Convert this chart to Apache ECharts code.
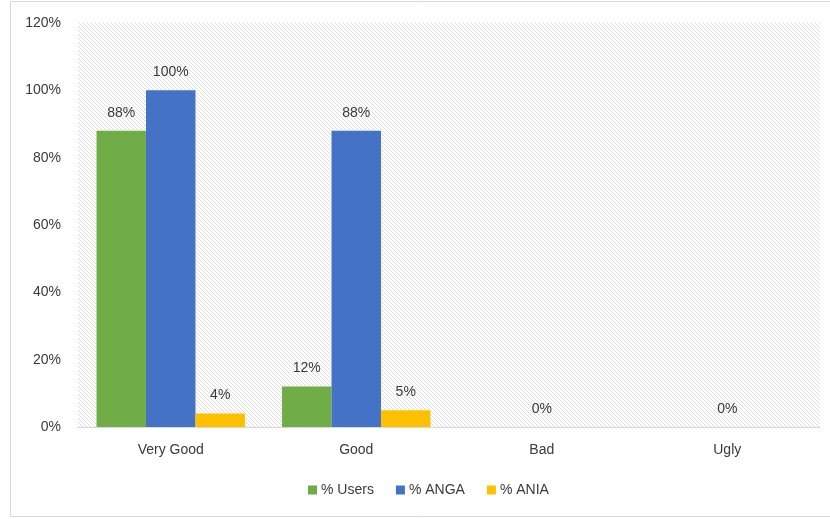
<!DOCTYPE html>
<html>
<head>
<meta charset="utf-8">
<script src="https://cdn.jsdelivr.net/npm/echarts@6/dist/echarts.min.js"></script>
<style>
  html, body { margin: 0; padding: 0; background: #fff; }
  #chart { width: 830px; height: 519px; }
</style>
</head>
<body>
<div id="chart"></div>
<script>
const categories = ['Very Good', 'Good', 'Bad', 'Ugly'];
const usersData = [88, 12, null, null];
const angaData = [100, 88, 0, 0];
const aniaData = [4, 5, null, null];
const yTicks = [0, 20, 40, 60, 80, 100, 120];

// diagonal hatch for plot background
function hatch() {
  const s = 4;
  const c = document.createElement('canvas');
  c.width = s; c.height = s;
  const ctx = c.getContext('2d');
  ctx.fillStyle = '#ffffff';
  ctx.fillRect(0, 0, s, s);
  ctx.strokeStyle = '#dfdfdf';
  ctx.lineWidth = 1;
  ctx.beginPath();
  ctx.moveTo(-1, -1); ctx.lineTo(s + 1, s + 1);
  ctx.moveTo(-1, s - 1); ctx.lineTo(1, s + 1);
  ctx.moveTo(s - 1, -1); ctx.lineTo(s + 1, 1);
  ctx.stroke();
  return c;
}

const chart = echarts.init(document.getElementById('chart'));
const font = 'Liberation Sans, Arial, sans-serif';
const textColor = '#3a3a3a';

function barSeries(name, data, color) {
  return {
    name: name,
    type: 'bar',
    data: data,
    barGap: 0,
    barCategoryGap: '20%',
    itemStyle: { color: color },
    label: {
      show: true,
      position: 'top',
      distance: 11,
      color: textColor,
      fontFamily: font,
      fontSize: 14,
      formatter: p => p.value == null ? '' : p.value + '%'
    }
  };
}

chart.setOption({
  animation: false,
  graphic: [{
    type: 'rect',
    shape: { x: 10.5, y: 1.5, width: 830, height: 515 },
    style: { fill: 'none', stroke: '#d9d9d9', lineWidth: 1 },
    silent: true
  }],
  grid: {
    left: 78, right: 10, top: 23, bottom: 92,
    show: true,
    borderWidth: 0,
    backgroundColor: { image: hatch(), repeat: 'repeat' }
  },
  legend: {
    bottom: 17,
    left: 303,
    itemWidth: 9,
    itemHeight: 9,
    itemGap: 22,
    icon: 'rect',
    textStyle: { color: textColor, fontFamily: font, fontSize: 14, padding: [0, 0, 0, -1] },
    data: ['% Users', '% ANGA', '% ANIA']
  },
  xAxis: {
    type: 'category',
    data: categories,
    axisLine: { lineStyle: { color: '#d9d9d9' } },
    axisTick: { show: false },
    axisLabel: { color: textColor, fontFamily: font, fontSize: 14, margin: 16 }
  },
  yAxis: {
    type: 'value',
    min: yTicks[0],
    max: yTicks[yTicks.length - 1],
    interval: 20,
    splitLine: { show: false },
    axisLine: { show: false },
    axisTick: { show: false },
    axisLabel: {
      color: textColor, fontFamily: font, fontSize: 14, margin: 17,
      formatter: v => v + '%'
    }
  },
  series: [
    barSeries('% Users', usersData, '#70ad47'),
    barSeries('% ANGA', angaData, '#4472c4'),
    barSeries('% ANIA', aniaData, '#ffc000')
  ]
});
</script>
</body>
</html>
